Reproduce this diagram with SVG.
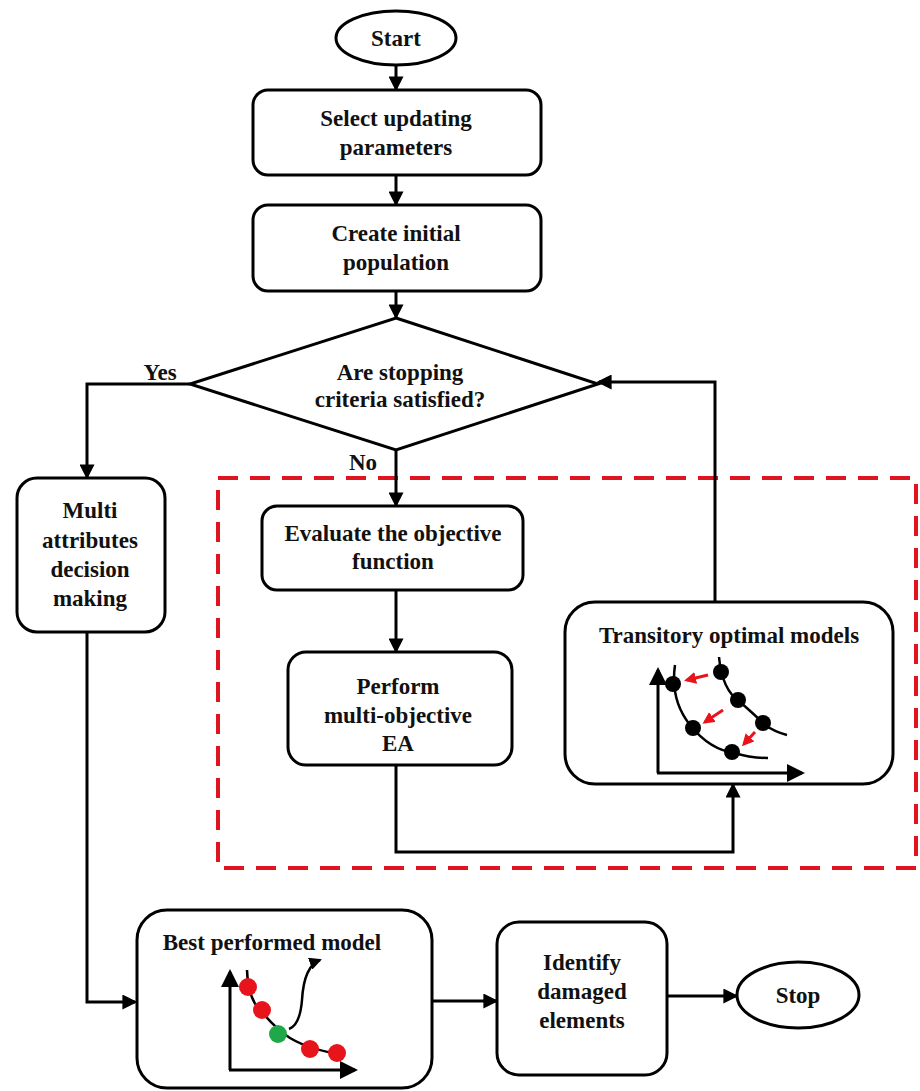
<svg xmlns="http://www.w3.org/2000/svg" width="920" height="1091" viewBox="0 0 920 1091">
<style>
.box{fill:#fff;stroke:#000;stroke-width:3}
.t{font-family:"Liberation Serif","Times New Roman",serif;font-weight:bold;font-size:23px;fill:#111;text-anchor:middle}
.c{fill:none;stroke:#000;stroke-width:3}
.ax{fill:none;stroke:#000;stroke-width:3}
.cv{fill:none;stroke:#000;stroke-width:2.5}
.dk{fill:#000}
.rd{fill:#e8141c}
.gr{fill:#1fa84a}
.ra{stroke:#e8141c;stroke-width:3;fill:none}
</style>
<defs>
<marker id="ah" markerWidth="5" markerHeight="5" refX="4.2" refY="2.5" orient="auto" markerUnits="strokeWidth">
<path d="M0,0 L5,2.5 L0,5 Z" fill="#000"/>
</marker>
<marker id="sa" markerWidth="6" markerHeight="6" refX="5" refY="3" orient="auto" markerUnits="strokeWidth">
<path d="M0,0 L6,3 L0,6 Z" fill="#000"/>
</marker>
<marker id="ra" markerWidth="4" markerHeight="4" refX="3" refY="2" orient="auto" markerUnits="strokeWidth">
<path d="M0,0 L4,2 L0,4 Z" fill="#e8141c"/>
</marker>
</defs>

<rect x="218" y="478" width="698" height="390" fill="none" stroke="#e0141e" stroke-width="4" stroke-dasharray="20,12"/>

<g id="connectors">
<line class="c" x1="396" y1="65" x2="396" y2="89" marker-end="url(#ah)"/>
<line class="c" x1="396" y1="175" x2="396" y2="204" marker-end="url(#ah)"/>
<line class="c" x1="396" y1="291" x2="396" y2="317" marker-end="url(#ah)"/>
<polyline class="c" points="190,384 87,384 87,477" marker-end="url(#ah)"/>
<line class="c" x1="396" y1="450" x2="396" y2="505" marker-end="url(#ah)"/>
<line class="c" x1="396" y1="590" x2="396" y2="651" marker-end="url(#ah)"/>
<polyline class="c" points="396,765 396,852 733,852 733,785" marker-end="url(#ah)"/>
<polyline class="c" points="715,602 715,382 599,382" marker-end="url(#ah)"/>
<polyline class="c" points="87,632 87,1002 135,1002" marker-end="url(#ah)"/>
<line class="c" x1="432" y1="1001" x2="496" y2="1001" marker-end="url(#ah)"/>
<line class="c" x1="667" y1="996" x2="736" y2="996" marker-end="url(#ah)"/>
<text class="t" x="160" y="380">Yes</text>
<text class="t" x="363" y="470">No</text>
</g>

<g id="start">
<ellipse class="box" cx="396" cy="38" rx="60" ry="27"/>
<text class="t" x="396" y="46">Start</text>
</g>

<g id="select">
<rect class="box" x="253" y="90" width="288" height="85" rx="15"/>
<text class="t" x="396" y="126">Select updating</text>
<text class="t" x="396" y="155">parameters</text>
</g>

<g id="create">
<rect class="box" x="253" y="205" width="288" height="86" rx="15"/>
<text class="t" x="396" y="241">Create initial</text>
<text class="t" x="396" y="270">population</text>
</g>

<g id="decision">
<polygon class="box" points="396,318 598,384 396,450 190,384"/>
<text class="t" x="400" y="380">Are stopping</text>
<text class="t" x="400" y="407">criteria satisfied?</text>
</g>

<g id="multi">
<rect class="box" x="17" y="478" width="148" height="154" rx="20"/>
<text class="t" x="90" y="518">Multi</text>
<text class="t" x="90" y="548">attributes</text>
<text class="t" x="90" y="577">decision</text>
<text class="t" x="90" y="606">making</text>
</g>

<g id="evaluate">
<rect class="box" x="262" y="506" width="261" height="84" rx="15"/>
<text class="t" x="393" y="541">Evaluate the objective</text>
<text class="t" x="393" y="569">function</text>
</g>

<g id="perform">
<rect class="box" x="288" y="652" width="224" height="113" rx="18"/>
<text class="t" x="398" y="694">Perform</text>
<text class="t" x="398" y="723">multi-objective</text>
<text class="t" x="398" y="751">EA</text>
</g>

<g id="transitory">
<rect class="box" x="565" y="602" width="328" height="182" rx="30"/>
<text class="t" x="729" y="643">Transitory optimal models</text>
<line class="ax" x1="658" y1="773" x2="658" y2="670" marker-end="url(#sa)"/>
<line class="ax" x1="657" y1="773" x2="802" y2="773" marker-end="url(#sa)"/>
<path class="cv" d="M675,665 Q670,700 690,725 Q710,750 735,753 Q750,758 768,758"/>
<path class="cv" d="M719,657 Q722,690 740,702 Q755,715 765,725 Q775,732 787,735"/>
<circle class="dk" cx="673" cy="684" r="8"/>
<circle class="dk" cx="693" cy="728" r="8"/>
<circle class="dk" cx="732" cy="752" r="8"/>
<circle class="dk" cx="721" cy="672" r="8"/>
<circle class="dk" cx="738" cy="700" r="8"/>
<circle class="dk" cx="763" cy="723" r="8"/>
<line class="ra" x1="708" y1="675" x2="687" y2="680" marker-end="url(#ra)"/>
<line class="ra" x1="723" y1="710" x2="705" y2="722" marker-end="url(#ra)"/>
<line class="ra" x1="755" y1="732" x2="744" y2="744" marker-end="url(#ra)"/>
</g>

<g id="best">
<rect class="box" x="137" y="910" width="295" height="178" rx="30"/>
<text class="t" x="272" y="950">Best performed model</text>
<line class="ax" x1="230" y1="1070" x2="230" y2="972" marker-end="url(#sa)"/>
<line class="ax" x1="229" y1="1070" x2="355" y2="1070" marker-end="url(#sa)"/>
<path class="cv" d="M247,970 Q248,1000 262,1012 Q275,1028 290,1038 Q310,1050 345,1055"/>
<path class="cv" d="M289,1029 Q300,1025 302,1000 Q304,966 320,960" marker-end="url(#ah)"/>
<circle class="rd" cx="248" cy="987" r="9"/>
<circle class="rd" cx="262" cy="1010" r="9"/>
<circle class="gr" cx="278" cy="1034" r="9"/>
<circle class="rd" cx="310" cy="1049" r="9"/>
<circle class="rd" cx="337" cy="1053" r="9"/>
</g>

<g id="identify">
<rect class="box" x="497" y="922" width="170" height="153" rx="22"/>
<text class="t" x="582" y="970">Identify</text>
<text class="t" x="582" y="999">damaged</text>
<text class="t" x="582" y="1028">elements</text>
</g>

<g id="stop">
<ellipse class="box" cx="798" cy="995" rx="61" ry="33"/>
<text class="t" x="798" y="1003">Stop</text>
</g>
</svg>
